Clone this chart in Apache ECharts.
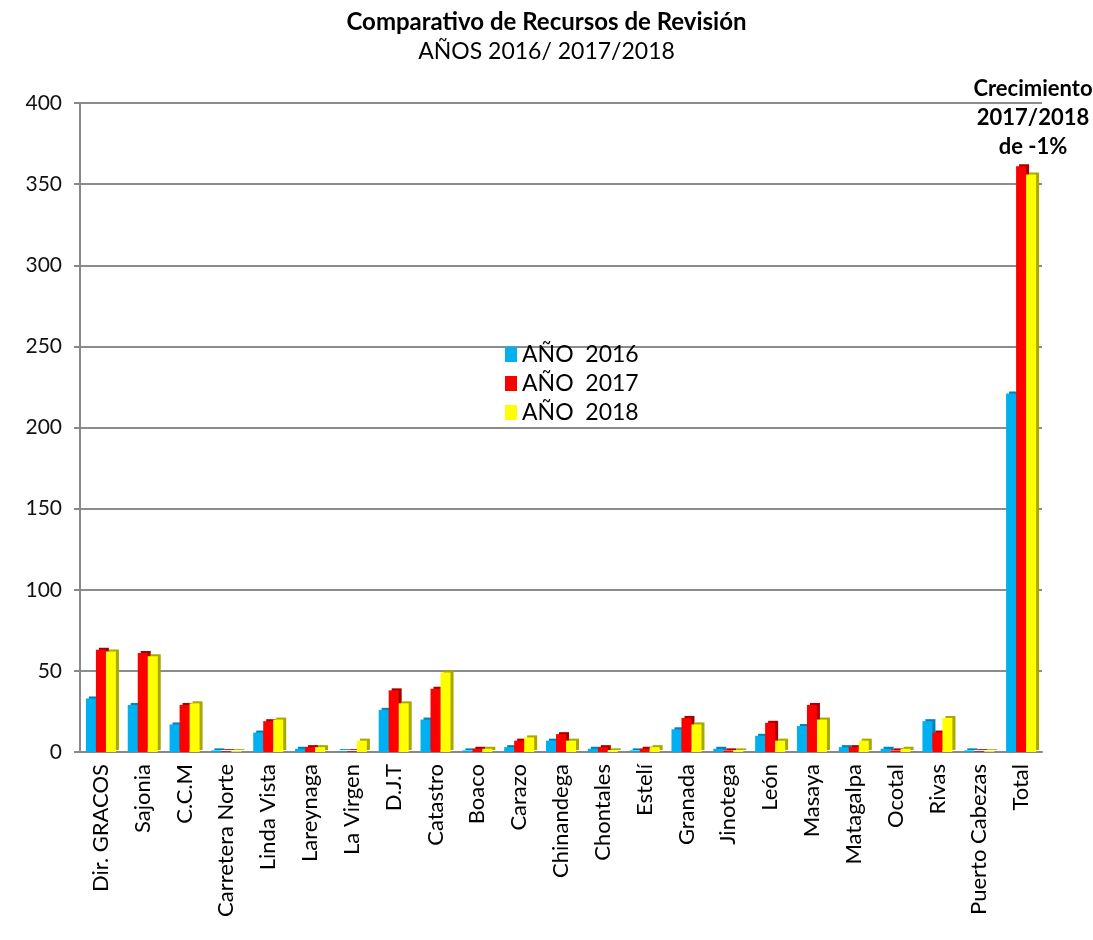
<!DOCTYPE html>
<html>
<head>
<meta charset="utf-8">
<script src="https://cdn.jsdelivr.net/npm/echarts@6/dist/echarts.min.js"></script>
<style>
  html, body { margin: 0; padding: 0; background: #fff; }
  #chart { width: 1093px; height: 940px; }
</style>
</head>
<body>
<div id="chart"></div>
<script>
  // datos
  var categorias = ['Dir. GRACOS', 'Sajonia', 'C.C.M', 'Carretera Norte', 'Linda Vista', 'Lareynaga',
    'La Virgen', 'D.J.T', 'Catastro', 'Boaco', 'Carazo', 'Chinandega', 'Chontales', 'Estelí',
    'Granada', 'Jinotega', 'León', 'Masaya', 'Matagalpa', 'Ocotal', 'Rivas', 'Puerto Cabezas', 'Total'];
  var anio2016 = [33, 29, 17, 1, 12, 2, 0.5, 26, 20, 1, 3, 7, 2, 1, 14, 2, 10, 16, 3, 2, 19, 1, 221];
  var anio2017 = [63, 61, 29, 0.5, 19, 3, 0.5, 38, 39, 2, 7, 11, 3, 2, 21, 1, 18, 29, 3, 1, 12, 0.5, 361];
  var anio2018 = [62, 59, 30, 0.5, 20, 3, 7, 30, 49, 2, 9, 7, 1, 3, 17, 1, 7, 20, 7, 2, 21, 0.5, 356];
  var ticksY = [0, 50, 100, 150, 200, 250, 300, 350, 400];

  var fuente = 'Lato';
  var chart = echarts.init(document.getElementById('chart'));

  function serie(nombre, datos, color, lado) {
    return {
      name: nombre,
      type: 'bar',
      data: datos,
      barWidth: 10,
      barGap: '0%',
      itemStyle: {
        color: color,
        shadowColor: lado,
        shadowOffsetX: 3,
        shadowOffsetY: -2,
        shadowBlur: 0
      }
    };
  }

  var option = {
    animation: false,
    textStyle: { fontFamily: fuente },
    title: [{
      text: 'Comparativo de Recursos de Revisión',
      subtext: 'AÑOS 2016/ 2017/2018',
      left: 'center',
      top: 5,
      itemGap: 6,
      textStyle: { fontFamily: fuente, fontSize: 24, fontWeight: 'bold', color: '#000' },
      subtextStyle: { fontFamily: fuente, fontSize: 23, color: '#000' }
    }, {
      text: 'Crecimiento\n2017/2018\nde -1%',
      left: 1028,
      top: 69,
      textAlign: 'center',
      textStyle: { fontFamily: fuente, fontSize: 22, fontWeight: 'bold', color: '#000', lineHeight: 29 }
    }],
    legend: {
      orient: 'vertical',
      left: 500,
      top: 338,
      itemWidth: 12,
      itemHeight: 15,
      itemGap: 6,
      icon: 'rect',
      textStyle: { fontFamily: fuente, fontSize: 23, color: '#000' },
      data: ['AÑO  2016', 'AÑO  2017', 'AÑO  2018']
    },
    grid: { left: 80, right: 51, top: 103, bottom: 188 },
    xAxis: {
      type: 'category',
      data: categorias,
      axisLine: { lineStyle: { color: '#888', width: 2 } },
      axisTick: { show: false },
      axisLabel: {
        interval: 0,
        rotate: 90,
        margin: 12,
        fontFamily: fuente,
        fontSize: 22,
        color: '#000'
      }
    },
    yAxis: {
      type: 'value',
      min: 0,
      max: 400,
      interval: 50,
      axisLine: { show: true, lineStyle: { color: '#888', width: 2 } },
      axisTick: { show: true, length: 6, lineStyle: { color: '#888', width: 2 } },
      splitLine: { lineStyle: { color: '#8c8c8c', width: 2 } },
      axisLabel: {
        margin: 18,
        fontFamily: fuente,
        fontSize: 21,
        color: '#111',
        formatter: function (v) { return ticksY.indexOf(v) >= 0 ? String(v) : ''; }
      }
    },
    series: [
      serie('AÑO  2016', anio2016, '#00B0F0', '#0083b3'),
      serie('AÑO  2017', anio2017, '#FF0000', '#a80000'),
      serie('AÑO  2018', anio2018, '#FFFF00', '#a8a800')
    ]
  };

  chart.setOption(option);
</script>
</body>
</html>
